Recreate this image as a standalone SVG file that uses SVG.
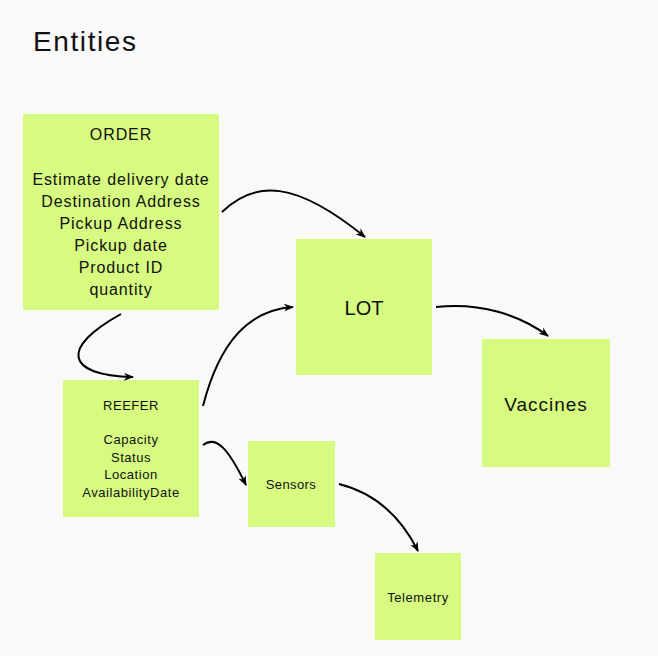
<svg xmlns="http://www.w3.org/2000/svg" width="658" height="656" viewBox="0 0 658 656">
<defs>
<marker id="arr" viewBox="0 0 10 10" refX="9" refY="5" markerWidth="10" markerHeight="10" markerUnits="userSpaceOnUse" orient="auto">
<path d="M0,1 L10,5 L0,9 L3,5 Z" fill="#000"/>
</marker>
<style>
.box{fill:#d6fb80}
.t{font-family:"Liberation Sans",Arial,sans-serif;fill:#111;text-anchor:middle}
.o{font-size:16px;letter-spacing:0.9px}
.r{font-size:13px;letter-spacing:0.55px}
.c{fill:none;stroke:#000;stroke-width:2;marker-end:url(#arr)}
</style>
</defs>
<rect width="658" height="656" fill="#f9f9f9"/>
<text x="33" y="51" font-family="Liberation Sans,Arial,sans-serif" font-size="28" letter-spacing="1.6" fill="#111">Entities</text>
<g id="order">
<rect class="box" x="23" y="114" width="196" height="196"/>
<text class="t o" x="121" y="140">ORDER</text>
<text class="t o" x="121" y="185">Estimate delivery date</text>
<text class="t o" x="121" y="207">Destination Address</text>
<text class="t o" x="121" y="229">Pickup Address</text>
<text class="t o" x="121" y="251">Pickup date</text>
<text class="t o" x="121" y="273">Product ID</text>
<text class="t o" x="121" y="295">quantity</text>
</g>
<g id="lot">
<rect class="box" x="296" y="239" width="136" height="136"/>
<text class="t" font-size="20" x="364" y="315">LOT</text>
</g>
<g id="vaccines">
<rect class="box" x="482" y="339" width="128" height="128"/>
<text class="t" font-size="19" letter-spacing="1" x="546" y="411">Vaccines</text>
</g>
<g id="reefer">
<rect class="box" x="63" y="380" width="136" height="137"/>
<text class="t r" x="131" y="410">REEFER</text>
<text class="t r" x="131" y="444">Capacity</text>
<text class="t r" x="131" y="462">Status</text>
<text class="t r" x="131" y="479">Location</text>
<text class="t r" x="131" y="497">AvailabilityDate</text>
</g>
<g id="sensors">
<rect class="box" x="248" y="441" width="87" height="86"/>
<text class="t" font-size="13" letter-spacing="0.4" x="291" y="489">Sensors</text>
</g>
<g id="telemetry">
<rect class="box" x="375" y="553" width="86" height="87"/>
<text class="t" font-size="13" letter-spacing="0.6" x="418" y="602">Telemetry</text>
</g>
<g id="connectors">
<path class="c" d="M222,212 C255,180 295,180 365,237"/>
<path class="c" d="M121,314 C60,348 65,375 133,377"/>
<path class="c" d="M203,406 C220,340 250,310 293,307"/>
<path class="c" d="M436,307 C480,302 520,315 548,336"/>
<path class="c" d="M203,445 C216,435 228,448 246,485"/>
<path class="c" d="M339,484 C375,493 400,515 418,551"/>
</g>
</svg>
